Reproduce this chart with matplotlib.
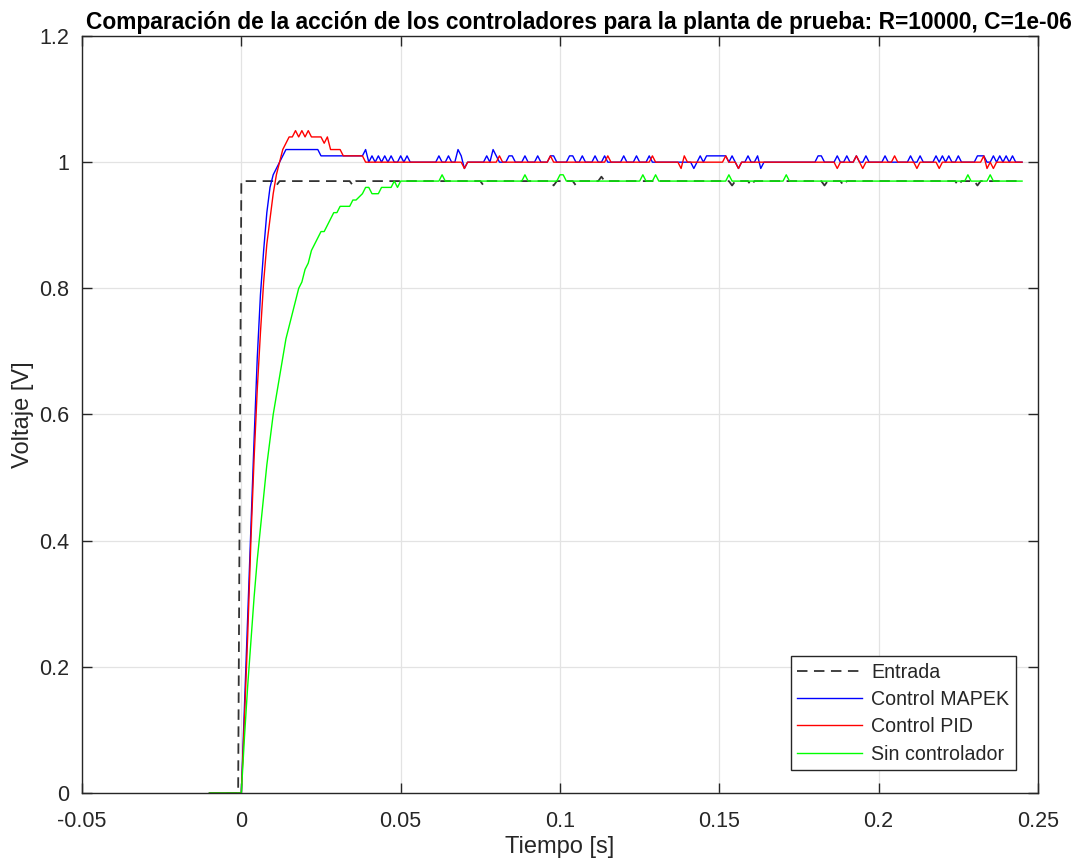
import numpy as np
import matplotlib
matplotlib.use("Agg")
import matplotlib.pyplot as plt

plt.rcParams['font.family'] = ['Liberation Sans', 'DejaVu Sans']

# Sampling instants in milliseconds (1 ms period)
t_ms = np.arange(-10, 246)
t = t_ms / 1000.0

# Entrada (step reference)
entrada_nivel = 0.97
entrada_dev_ms = [11, 35, 76, 98, 105, 113, 154, 160, 183, 189, 225, 231]
entrada_dev_val = [0.963, 0.963, 0.963, 0.963, 0.963, 0.977, 0.963, 0.963, 0.963, 0.963, 0.963, 0.963]

# Control MAPEK: transient for t = 0..39 ms, then steady level with quantisation flicker
mapek_subida = [0.00, 0.14, 0.28, 0.42, 0.56, 0.69, 0.79, 0.86, 0.92, 0.96,
                0.98, 0.99, 1.00, 1.01, 1.02, 1.02, 1.02, 1.02, 1.02, 1.02,
                1.02, 1.02, 1.02, 1.02, 1.02, 1.01, 1.01, 1.01, 1.01, 1.01,
                1.01, 1.01, 1.01, 1.01, 1.01, 1.01, 1.01, 1.01, 1.01, 1.02]
mapek_nivel = 1.00
mapek_dev_ms = [41, 43, 45, 47, 50, 52, 62, 65, 68, 69, 70, 77, 79, 80, 84, 85,
                89, 93, 97, 98, 103, 104, 107, 111, 114, 120, 124, 128, 142, 144,
                146, 147, 148, 149, 150, 151, 152, 154, 156, 159, 162, 163, 181,
                182, 187, 190, 193, 196, 202, 210, 213, 218, 220, 222, 225, 231,
                232, 233, 236, 238, 240, 242]
mapek_dev_val = [1.01, 1.01, 1.01, 1.01, 1.01, 1.01, 1.01, 1.01, 1.02, 1.01, 0.99,
                 1.01, 1.02, 1.01, 1.01, 1.01, 1.01, 1.01, 1.01, 1.01, 1.01, 1.01,
                 1.01, 1.01, 1.01, 1.01, 1.01, 1.01, 0.99, 1.01, 1.01, 1.01, 1.01,
                 1.01, 1.01, 1.01, 1.01, 1.01, 0.99, 1.01, 1.01, 0.99, 1.01, 1.01,
                 1.01, 1.01, 1.01, 1.01, 1.01, 1.01, 1.01, 1.01, 1.01, 1.01, 1.01,
                 1.01, 1.01, 1.01, 1.01, 1.01, 1.01, 1.01]

# Control PID
pid_subida = [0.00, 0.12, 0.25, 0.40, 0.53, 0.64, 0.73, 0.81, 0.87, 0.91,
              0.95, 0.98, 1.00, 1.02, 1.03, 1.04, 1.04, 1.05, 1.04, 1.05,
              1.04, 1.05, 1.04, 1.04, 1.04, 1.04, 1.03, 1.04, 1.02, 1.02,
              1.02, 1.02, 1.01, 1.01, 1.01, 1.01, 1.01, 1.01, 1.01, 1.00]
pid_nivel = 1.00
pid_dev_ms = [70, 81, 97, 115, 129, 138, 139, 152, 156, 187, 193, 195, 205,
              212, 219, 233, 234, 236]
pid_dev_val = [0.99, 1.01, 1.01, 1.01, 1.01, 0.99, 1.01, 1.01, 0.99, 0.99,
               1.01, 0.99, 1.01, 0.99, 0.99, 1.01, 0.99, 0.99]

# Sin controlador (open-loop RC response)
libre_subida = [0.00, 0.09, 0.17, 0.24, 0.31, 0.37, 0.42, 0.47, 0.52, 0.56,
                0.60, 0.63, 0.66, 0.69, 0.72, 0.74, 0.76, 0.78, 0.80, 0.81,
                0.83, 0.84, 0.86, 0.87, 0.88, 0.89, 0.89, 0.90, 0.91, 0.92,
                0.92, 0.93, 0.93, 0.93, 0.93, 0.94, 0.94, 0.945, 0.95, 0.96,
                0.96, 0.95, 0.95, 0.95, 0.96, 0.96, 0.96, 0.96, 0.97, 0.96,
                0.97]
libre_nivel = 0.97
libre_dev_ms = [63, 89, 100, 101, 126, 130, 153, 171, 228, 235]
libre_dev_val = [0.98, 0.98, 0.98, 0.98, 0.98, 0.98, 0.98, 0.98, 0.98, 0.98]

x_ticks = [-0.05, 0, 0.05, 0.1, 0.15, 0.2, 0.25]
x_ticklabels = ['-0.05', '0', '0.05', '0.1', '0.15', '0.2', '0.25']
y_ticks = [0, 0.2, 0.4, 0.6, 0.8, 1.0, 1.2]
y_ticklabels = ['0', '0.2', '0.4', '0.6', '0.8', '1', '1.2']


def serie(subida, nivel, dev_ms, dev_val):
    y = np.full(t_ms.shape, float(nivel))
    y[t_ms < 0] = 0.0
    n = len(subida)
    y[(t_ms >= 0) & (t_ms < n)] = subida
    for m, v in zip(dev_ms, dev_val):
        y[t_ms == m] = v
    return y


entrada = serie([], entrada_nivel, entrada_dev_ms, entrada_dev_val)
mapek = serie(mapek_subida, mapek_nivel, mapek_dev_ms, mapek_dev_val)
pid = serie(pid_subida, pid_nivel, pid_dev_ms, pid_dev_val)
libre = serie(libre_subida, libre_nivel, libre_dev_ms, libre_dev_val)

fig = plt.figure(figsize=(10.76, 8.59), dpi=100)
ax = fig.add_axes([82 / 1076, 66 / 859, 956 / 1076, 757 / 859])

ax.plot(t, entrada, color='#333333', lw=1.3, linestyle=(0, (5.8, 3.6)), label='Entrada')
ax.plot(t, mapek, color='#0000ff', lw=1.0, label='Control MAPEK')
ax.plot(t, pid, color='#ff0000', lw=1.0, label='Control PID')
ax.plot(t, libre, color='#00ff00', lw=1.0, label='Sin controlador')

ax.set_xlim(-0.05, 0.25)
ax.set_ylim(0, 1.2)
ax.set_xticks(x_ticks)
ax.set_xticklabels(x_ticklabels)
ax.set_yticks(y_ticks)
ax.set_yticklabels(y_ticklabels)
ax.grid(True, color='#e3e3e3', lw=0.9)
ax.set_axisbelow(True)
for s in ax.spines.values():
    s.set_color('#262626')
    s.set_linewidth(1.0)
ax.tick_params(direction='in', length=7, width=1.0, color='#262626',
               labelsize=15.5, labelcolor='#262626', top=True, right=True)
ax.tick_params(axis='x', pad=13)
ax.tick_params(axis='y', pad=9)

ax.set_xlabel('Tiempo [s]', fontsize=17, color='#262626', labelpad=3)
ax.set_ylabel('Voltaje [V]', fontsize=17, color='#262626', labelpad=4)
ax.set_title('Comparación de la acción de los controladores para la planta de prueba: R=10000, C=1e-06',
             fontsize=16.4, fontweight='bold', color='black', pad=5, x=0.52)

leg = ax.legend(loc='lower right', bbox_to_anchor=(1016 / 1076, 89 / 859),
                bbox_transform=fig.transFigure, borderaxespad=0, fontsize=14.1,
                handlelength=3.3, handletextpad=0.5, labelspacing=0.42,
                borderpad=0.33, fancybox=False, framealpha=1, edgecolor='#262626')
leg.get_frame().set_linewidth(1.0)
for txt in leg.get_texts():
    txt.set_color('#262626')

fig.savefig('out.png', dpi=100, facecolor='white')
